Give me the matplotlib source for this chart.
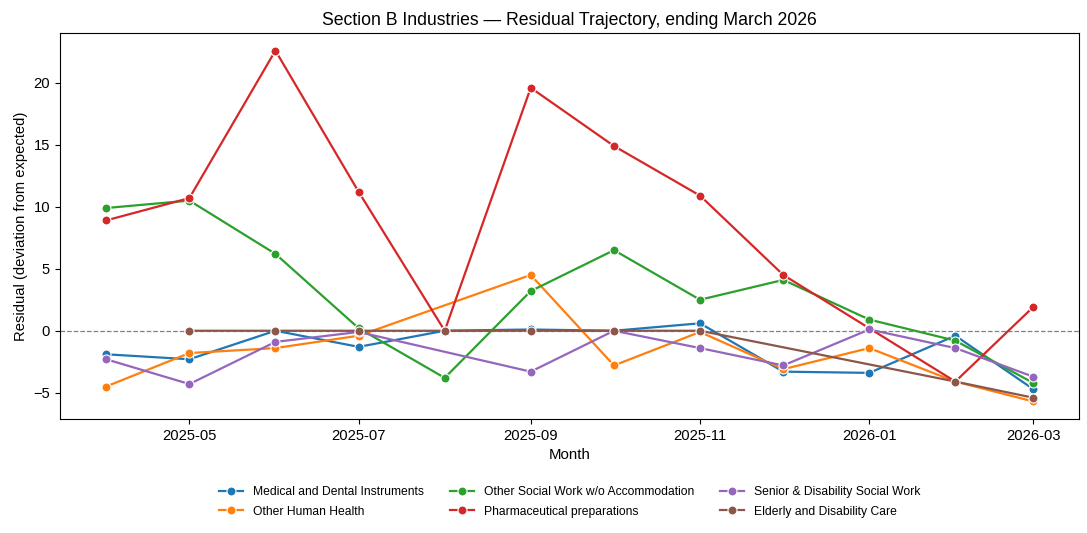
import numpy as np
import pandas as pd
import matplotlib
matplotlib.use('Agg')
import matplotlib.pyplot as plt
import matplotlib.dates as mdates

plt.rcParams['font.family'] = ['Liberation Sans', 'DejaVu Sans']

# Monthly residuals (NaN = no value that month)
months = pd.date_range('2025-04-01', '2026-03-01', freq='MS')
nan = np.nan

medical = [-1.9, -2.3, 0.0, -1.3, 0.0, 0.1, 0.0, 0.6, -3.3, -3.4, -0.4, -4.7]
human_health = [-4.5, -1.8, -1.4, -0.4, nan, 4.5, -2.8, -0.1, -3.1, -1.4, -4.1, -5.7]
social_work = [9.9, 10.5, 6.2, 0.2, -3.8, 3.2, 6.5, 2.5, 4.1, 0.9, -0.8, -4.2]
pharma = [8.9, 10.7, 22.6, 11.2, 0.0, 19.6, 14.9, 10.9, 4.5, 0.2, -4.1, 1.9]
senior = [-2.3, -4.3, -0.9, -0.1, nan, -3.3, 0.0, -1.4, -2.8, 0.1, -1.4, -3.7]
elderly = [nan, 0.0, 0.0, 0.0, 0.0, 0.0, 0.0, 0.0, nan, nan, -4.1, -5.4]

series_names = ['Medical and Dental Instruments', 'Other Human Health',
                'Other Social Work w/o Accommodation', 'Pharmaceutical preparations',
                'Senior & Disability Social Work', 'Elderly and Disability Care']
series_values = [medical, human_health, social_work, pharma, senior, elderly]
colors = ['#1f77b4', '#ff7f0e', '#2ca02c', '#d62728', '#9467bd', '#8c564b']

fig, ax = plt.subplots(figsize=(10.87, 5.33), dpi=100)
fig.subplots_adjust(left=0.055, right=0.993, top=0.938, bottom=0.214)

for name, vals, c in zip(series_names, series_values, colors):
    v = np.array(vals, dtype=float)
    ok = ~np.isnan(v)
    ax.plot(months[ok], v[ok], color=c, lw=1.6, marker='o', ms=6.5,
            mec='white', mew=0.8, label=name)

ax.axhline(0, color='gray', ls='--', lw=0.9, zorder=0)

ax.xaxis.set_major_locator(mdates.MonthLocator(bymonth=[1, 3, 5, 7, 9, 11]))
ax.xaxis.set_major_formatter(mdates.DateFormatter('%Y-%m'))
ax.tick_params(labelsize=10.6)

ax.set_title('Section B Industries \u2014 Residual Trajectory, ending March 2026', fontsize=12.7)
ax.set_xlabel('Month', fontsize=10.8)
ax.set_ylabel('Residual (deviation from expected)', fontsize=10.6)

ax.legend(loc='upper center', bbox_to_anchor=(0.5, -0.145), ncol=3, frameon=False,
          fontsize=8.7, handlelength=2, columnspacing=2.15, labelspacing=0.65)

fig.savefig('out.png', dpi=100)
